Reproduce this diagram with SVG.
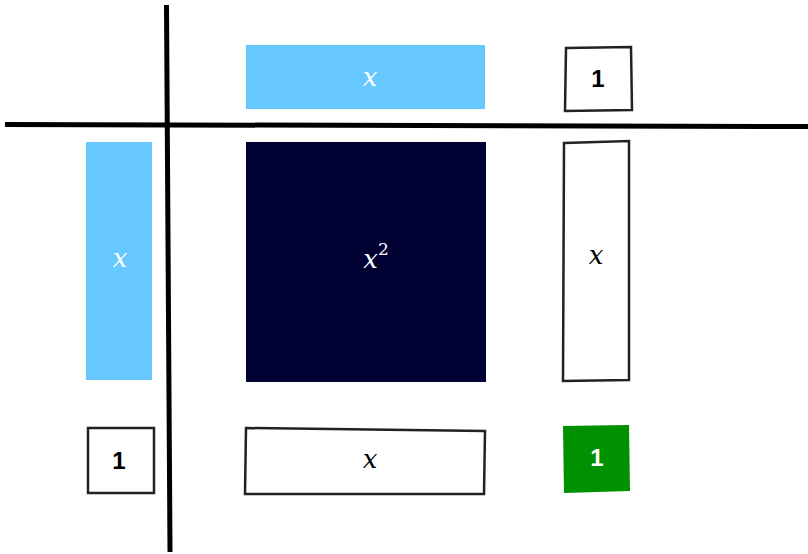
<svg xmlns="http://www.w3.org/2000/svg" width="808" height="554" viewBox="0 0 808 554">
<style>
.axis{stroke:#000;stroke-width:5;stroke-linecap:butt}
.blue{fill:#66c8ff}
.dark{fill:#000033}
.outline{fill:#fff;stroke:#222;stroke-width:2.5}
.green{fill:#009100}
.mx{font-family:'DejaVu Serif','Liberation Serif',serif;font-style:italic;font-size:26px;text-anchor:middle}
.one{font-family:'Liberation Sans',Arial,sans-serif;font-weight:bold;font-size:24px;text-anchor:middle}
.sup{font-size:17px;font-style:normal}
</style>
<rect width="808" height="554" fill="#fff"/>
<g id="axes">
<line class="axis" x1="166.5" y1="5" x2="170" y2="552"/>
<line class="axis" x1="5" y1="124.5" x2="808" y2="126.5"/>
</g>
<g id="top-x">
<rect class="blue" x="246" y="45" width="239" height="64"/>
<text class="mx" x="370" y="86" fill="#fff">x</text>
</g>
<g id="top-1">
<polygon class="outline" points="566,48 631,47 632,110 565,111"/>
<text class="one" x="598" y="87" fill="#000">1</text>
</g>
<g id="left-x">
<rect class="blue" x="86" y="142" width="66" height="238"/>
<text class="mx" x="120" y="267" fill="#fff">x</text>
</g>
<g id="x2">
<rect class="dark" x="246" y="142" width="240" height="240"/>
<text class="mx" x="376" y="268" fill="#fff">x<tspan class="sup" dy="-13">2</tspan></text>
</g>
<g id="right-x">
<polygon class="outline" points="564,143 629,141 629,380 563,381"/>
<text class="mx" x="596" y="264" fill="#000">x</text>
</g>
<g id="bottom-1">
<rect class="outline" x="88" y="428" width="66" height="65"/>
<text class="one" x="119" y="469" fill="#000">1</text>
</g>
<g id="bottom-x">
<polygon class="outline" points="246,428 485,431 484,494 245,494"/>
<text class="mx" x="370" y="468" fill="#000">x</text>
</g>
<g id="green-1">
<polygon class="green" points="563,426 629,425 630,491 564,493"/>
<text class="one" x="597" y="466" fill="#fff">1</text>
</g>
</svg>
